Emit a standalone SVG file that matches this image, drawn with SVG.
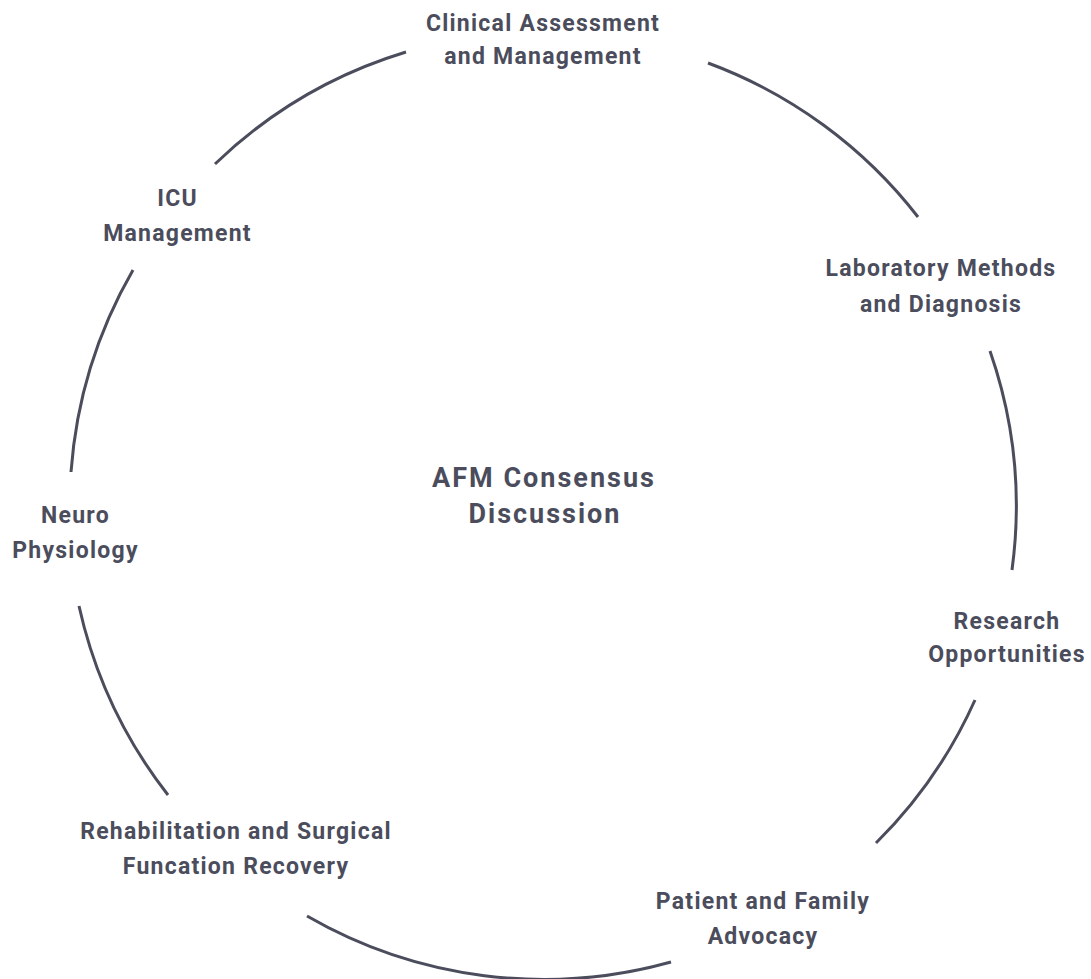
<svg xmlns="http://www.w3.org/2000/svg" width="1091" height="979" viewBox="0 0 1091 979">
<style>
.arc{fill:none;stroke:#4b4d5c;stroke-width:3;stroke-linecap:butt}
.lbl{font-family:Roboto,"Liberation Sans",sans-serif;font-weight:700;font-size:23px;letter-spacing:1.25px;fill:#4b4d5c;text-anchor:middle}
.ctr{font-family:Roboto,"Liberation Sans",sans-serif;font-weight:700;font-size:27px;letter-spacing:2px;fill:#4b4d5c;text-anchor:middle}
</style>
<rect width="1091" height="979" fill="#ffffff"/>
<g id="connectors">
<path class="arc" d="M215,164 A473.5,473.5 0 0 1 406,52"/>
<path class="arc" d="M708,63 A473.5,473.5 0 0 1 918,217"/>
<path class="arc" d="M990,351 A473.5,473.5 0 0 1 1012,570"/>
<path class="arc" d="M975,700 A473.5,473.5 0 0 1 876,843"/>
<path class="arc" d="M671,962 A473.5,473.5 0 0 1 307,916"/>
<path class="arc" d="M168,795 A473.5,473.5 0 0 1 79,606"/>
<path class="arc" d="M71,472 A473.5,473.5 0 0 1 133,270"/>
</g>
<g id="center">
<text class="ctr" x="544" y="487">AFM Consensus</text>
<text class="ctr" x="545" y="523">Discussion</text>
</g>
<g id="clinical">
<text class="lbl" x="543" y="31">Clinical Assessment</text>
<text class="lbl" x="543" y="64">and Management</text>
</g>
<g id="laboratory">
<text class="lbl" x="941" y="276">Laboratory Methods</text>
<text class="lbl" x="941" y="312">and Diagnosis</text>
</g>
<g id="research">
<text class="lbl" x="1007" y="629">Research</text>
<text class="lbl" x="1007" y="662">Opportunities</text>
</g>
<g id="patient">
<text class="lbl" x="763" y="909">Patient and Family</text>
<text class="lbl" x="763" y="944">Advocacy</text>
</g>
<g id="rehabilitation">
<text class="lbl" x="236" y="839">Rehabilitation and Surgical</text>
<text class="lbl" x="236" y="874">Funcation Recovery</text>
</g>
<g id="neuro">
<text class="lbl" x="75.5" y="523">Neuro</text>
<text class="lbl" x="75.5" y="558">Physiology</text>
</g>
<g id="icu">
<text class="lbl" x="177.5" y="206">ICU</text>
<text class="lbl" x="177.5" y="241">Management</text>
</g>
</svg>
